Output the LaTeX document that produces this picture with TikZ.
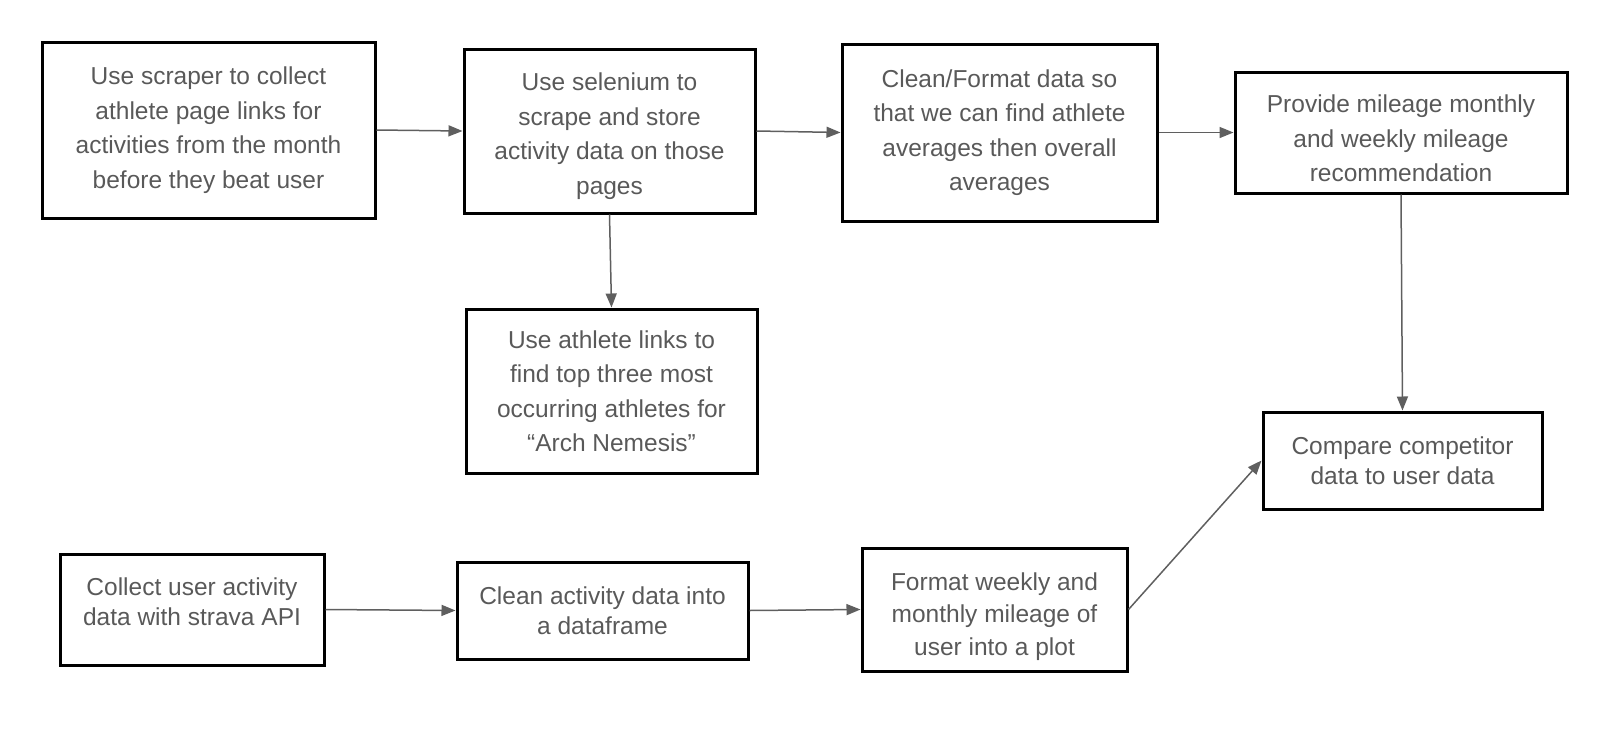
\documentclass[tikz,border=0pt]{standalone}
\usepackage{fontspec}
\setmainfont{Liberation Sans}
\usetikzlibrary{arrows.meta}
\definecolor{txtgray}{HTML}{595959}
\definecolor{arrgray}{HTML}{5F5F5F}
\begin{document}
\begin{tikzpicture}[x=1pt,y=-1pt]
	% Styles for boxes and arrows
	\tikzset{procbox/.style={draw=black, line width=3pt, text=txtgray, align=center, inner sep=0pt,
			font=\fontsize{24.5}{34.5}\selectfont},
		tightbox/.style={procbox, font=\fontsize{24.5}{30.5}\selectfont},
		flow/.style={arrgray, line width=1.5pt, -{Triangle[length=14pt,width=11pt]}}}
	\useasboundingbox (0,0) rectangle (1604,742);
	
	% Top row
	\node[procbox, minimum width=333, minimum height=176] (scrape) at (208.5,130) {Use scraper to collect\\athlete page links for\\activities from the month\\before they beat user};
	\node[procbox, minimum width=291, minimum height=164] (selenium) at (609.5,131) {\mbox{}\\[-6.5pt]Use selenium to\\scrape and store\\activity data on those\\pages};
	\node[procbox, minimum width=315, minimum height=177] (clean) at (999.5,132.5) {Clean/Format data so\\that we can find athlete\\averages then overall\\averages};
	\node[procbox, minimum width=332, minimum height=121] (provide) at (1401,132.5) {\mbox{}\\[-4.5pt]Provide mileage monthly\\and weekly mileage\\recommendation};
	
	% Middle
	\node[procbox, minimum width=291, minimum height=164] (nemesis) at (611.5,391) {Use athlete links to\\find top three most\\occurring athletes for\\“Arch Nemesis”};
	\node[tightbox, minimum width=279, minimum height=97] (compare) at (1402.5,460.5) {Compare competitor\\data to user data};
	
	% Bottom row
	\node[tightbox, minimum width=264, minimum height=111] (collect) at (192,609.5) {Collect user activity\\data with strava API\\[-15pt]};
	\node[tightbox, minimum width=291, minimum height=97] (frame) at (602.5,610.5) {Clean activity data into\\a dataframe};
	\node[procbox, minimum width=265, minimum height=123, font=\fontsize{24.5}{32.5}\selectfont] (plot) at (994.5,609.5) {\mbox{}\\[-0.5pt]Format weekly and\\monthly mileage of\\user into a plot};
	
	% Arrows
	\draw[flow] (scrape.east) -- (selenium.west);
	\draw[flow] (selenium.east) -- (clean.west);
	\draw[flow] (clean.east) -- (provide.west);
	\draw[flow] (selenium.south) -- (nemesis.north);
	\draw[flow] (provide.south) -- (compare.north);
	\draw[flow] (collect.east) -- (frame.west);
	\draw[flow] (frame.east) -- (plot.west);
	\draw[flow] (plot.east) -- (compare.west);
\end{tikzpicture}
\end{document}
